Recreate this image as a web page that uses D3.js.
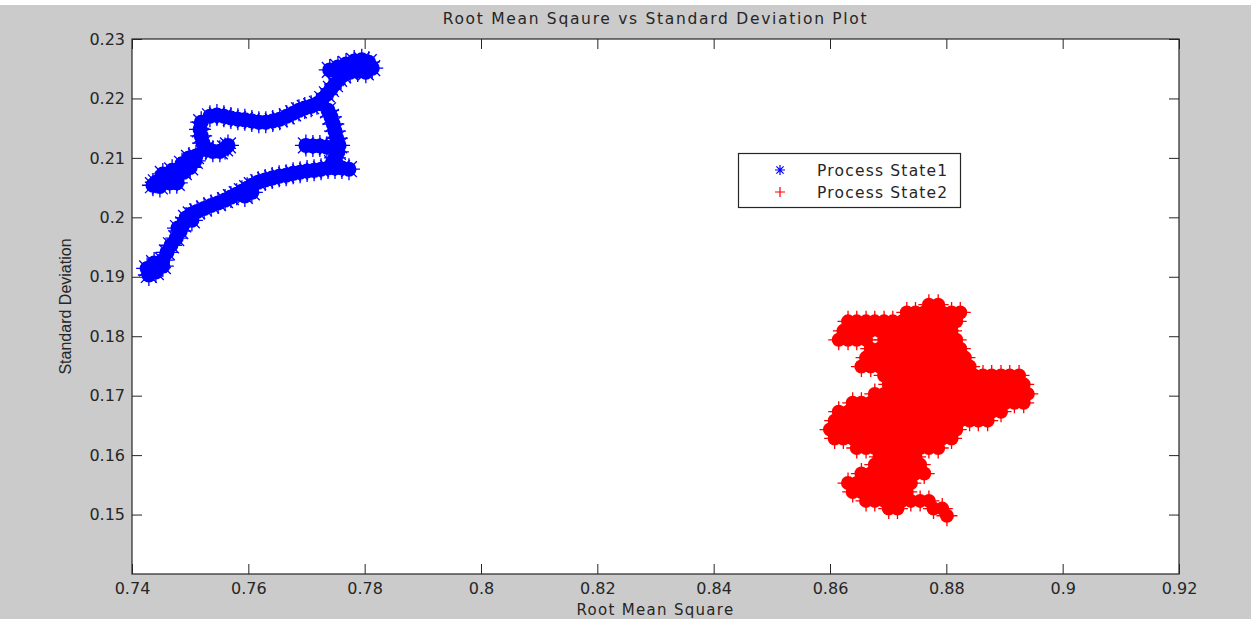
<!DOCTYPE html>
<html>
<head>
<meta charset="utf-8">
<script src="https://cdn.jsdelivr.net/npm/d3@7"></script>
<style>
  html, body { margin: 0; padding: 0; background: #ffffff; }
  svg { display: block; }
</style>
</head>
<body>
<svg id="chart" width="1251" height="619"></svg>
<script>
// ---- data -------------------------------------------------------------
const xDomain = [0.74, 0.92];
const yDomain = [0.14, 0.23];
const xTicks = [0.74, 0.76, 0.78, 0.80, 0.82, 0.84, 0.86, 0.88, 0.90, 0.92];
const yTicks = [0.15, 0.16, 0.17, 0.18, 0.19, 0.20, 0.21, 0.22, 0.23];
const seriesNames = ["Process State1", "Process State2"];
const seriesColors = ["#0000ff", "#ff0000"];

// Process State1: (RMS, SD) samples
const state1 = [
  [0.7426,0.1914],[0.7438,0.1923],[0.7441,0.1908],[0.7453,0.1918],[0.7429,0.1903],[0.7453,0.1928],
  [0.7460,0.1941],[0.7467,0.1953],[0.7476,0.1965],[0.7483,0.1977],[0.7488,0.1988],[0.7479,0.1982],
  [0.7503,0.1995],[0.7493,0.1999],[0.7501,0.2005],[0.7512,0.2010],[0.7524,0.2015],[0.7536,0.2020],
  [0.7548,0.2024],[0.7560,0.2029],[0.7570,0.2034],[0.7580,0.2039],[0.7589,0.2044],[0.7594,0.2036],
  [0.7606,0.2042],[0.7598,0.2049],[0.7606,0.2054],[0.7617,0.2059],[0.7629,0.2063],[0.7641,0.2066],
  [0.7653,0.2069],[0.7665,0.2071],[0.7677,0.2074],[0.7689,0.2076],[0.7701,0.2078],[0.7713,0.2079],
  [0.7725,0.2081],[0.7737,0.2083],[0.7749,0.2083],[0.7761,0.2083],[0.7773,0.2081],
  [0.7744,0.2091],[0.7749,0.2100],[0.7754,0.2110],[0.7756,0.2121],[0.7752,0.2133],[0.7749,0.2145],
  [0.7746,0.2157],[0.7742,0.2169],[0.7737,0.2180],
  [0.7699,0.2121],[0.7711,0.2120],[0.7723,0.2120],[0.7735,0.2118],
  [0.7718,0.2191],[0.7727,0.2199],[0.7735,0.2207],[0.7742,0.2216],[0.7749,0.2224],[0.7756,0.2233],
  [0.7763,0.2239],
  [0.7740,0.2248],[0.7754,0.2253],[0.7768,0.2258],[0.7782,0.2263],[0.7795,0.2265],[0.7807,0.2261],
  [0.7813,0.2251],[0.7802,0.2244],[0.7788,0.2246],[0.7775,0.2244],
  [0.7534,0.2170],[0.7546,0.2172],[0.7558,0.2170],[0.7570,0.2167],[0.7582,0.2165],[0.7594,0.2164],
  [0.7606,0.2162],[0.7618,0.2160],[0.7630,0.2160],[0.7642,0.2162],[0.7654,0.2165],[0.7666,0.2170],
  [0.7677,0.2175],[0.7687,0.2180],[0.7697,0.2184],[0.7708,0.2187],
  [0.7519,0.2160],[0.7517,0.2148],[0.7519,0.2137],[0.7522,0.2125],[0.7527,0.2115],[0.7539,0.2111],
  [0.7551,0.2111],[0.7560,0.2116],[0.7565,0.2121],
  [0.7510,0.2103],[0.7508,0.2095],[0.7500,0.2084],[0.7498,0.2100],[0.7489,0.2076],[0.7486,0.2090],
  [0.7477,0.2069],[0.7469,0.2079],[0.7465,0.2066],[0.7465,0.2058],[0.7453,0.2063],[0.7453,0.2073],
  [0.7441,0.2059],[0.7436,0.2054],[0.7448,0.2052],[0.7477,0.2058]
];

// Process State2: samples grouped by SD value -> list of RMS values
const state2Rows = [
  [0.1853, [0.8770,0.8786]],
  [0.1840, [0.8732,0.8747,0.8762,0.8778,0.8793,0.8809,0.8824]],
  [0.1825, [0.8631,0.8646,0.8662,0.8677,0.8693,0.8708,0.8724,0.8739,0.8755,0.8770,0.8786,0.8801,0.8817]],
  [0.1809, [0.8623,0.8639,0.8654,0.8670,0.8685,0.8701,0.8716,0.8732,0.8747,0.8762,0.8778,0.8793,0.8809]],
  [0.1794, [0.8615,0.8631,0.8646,0.8662,0.8693,0.8708,0.8724,0.8739,0.8755,0.8770,0.8786,0.8801,0.8817]],
  [0.1779, [0.8670,0.8685,0.8701,0.8716,0.8732,0.8747,0.8762,0.8778,0.8793,0.8809,0.8824]],
  [0.1764, [0.8662,0.8677,0.8693,0.8708,0.8724,0.8739,0.8755,0.8770,0.8786,0.8801,0.8817,0.8832]],
  [0.1749, [0.8654,0.8670,0.8685,0.8701,0.8716,0.8732,0.8747,0.8762,0.8778,0.8793,0.8809,0.8824,0.8840]],
  [0.1734, [0.8693,0.8708,0.8724,0.8739,0.8755,0.8770,0.8786,0.8801,0.8817,0.8832,0.8848,0.8863,0.8878,0.8894,0.8909,0.8925]],
  [0.1719, [0.8701,0.8716,0.8732,0.8747,0.8762,0.8778,0.8793,0.8809,0.8824,0.8840,0.8855,0.8871,0.8886,0.8902,0.8917,0.8933]],
  [0.1703, [0.8677,0.8693,0.8708,0.8724,0.8739,0.8755,0.8770,0.8786,0.8801,0.8817,0.8832,0.8848,0.8863,0.8878,0.8894,0.8909,0.8925,0.8940]],
  [0.1688, [0.8639,0.8654,0.8670,0.8685,0.8701,0.8716,0.8732,0.8747,0.8762,0.8778,0.8793,0.8809,0.8824,0.8840,0.8855,0.8871,0.8886,0.8902,0.8917,0.8933]],
  [0.1673, [0.8615,0.8631,0.8646,0.8662,0.8677,0.8693,0.8708,0.8724,0.8739,0.8755,0.8770,0.8786,0.8801,0.8817,0.8832,0.8848,0.8863,0.8878,0.8894]],
  [0.1658, [0.8608,0.8623,0.8639,0.8654,0.8670,0.8685,0.8701,0.8716,0.8732,0.8747,0.8762,0.8778,0.8793,0.8809,0.8824,0.8840,0.8855,0.8871]],
  [0.1643, [0.8600,0.8615,0.8631,0.8646,0.8662,0.8677,0.8693,0.8708,0.8724,0.8739,0.8755,0.8770,0.8786,0.8801,0.8817]],
  [0.1628, [0.8608,0.8623,0.8639,0.8654,0.8670,0.8685,0.8701,0.8716,0.8732,0.8747,0.8762,0.8778,0.8793,0.8809]],
  [0.1612, [0.8646,0.8662,0.8677,0.8693,0.8708,0.8724,0.8739,0.8755,0.8770,0.8786]],
  [0.1597, [0.8685,0.8701,0.8716,0.8732,0.8747]],
  [0.1584, [0.8677,0.8693,0.8708,0.8724,0.8739,0.8755]],
  [0.1569, [0.8654,0.8670,0.8685,0.8701,0.8716,0.8732,0.8747,0.8762]],
  [0.1553, [0.8631,0.8646,0.8662,0.8677,0.8693,0.8708,0.8724,0.8739]],
  [0.1538, [0.8639,0.8654,0.8670,0.8685,0.8701,0.8716,0.8732]],
  [0.1523, [0.8662,0.8677,0.8693,0.8708,0.8724,0.8739,0.8755,0.8770]],
  [0.1510, [0.8701,0.8716,0.8778,0.8793]],
  [0.1498, [0.8801]]
];
const state2 = state2Rows.flatMap(([sd, list]) => list.map(rms => [rms, sd]));

// ---- layout -----------------------------------------------------------
const W = 1251, H = 619;
const plot = { left: 132, right: 1179, top: 39, bottom: 574 };
const FONT = "'DejaVu Sans', Verdana, sans-serif";
const INK = "#262626";

const svg = d3.select("#chart");

// figure background
svg.append("rect").attr("x", 0).attr("y", 5).attr("width", W).attr("height", H - 5).attr("fill", "#cbcbcb");
// axes background
svg.append("rect")
  .attr("x", plot.left).attr("y", plot.top)
  .attr("width", plot.right - plot.left).attr("height", plot.bottom - plot.top)
  .attr("fill", "#ffffff");

const x = d3.scaleLinear().domain(xDomain).range([plot.left, plot.right]);
const y = d3.scaleLinear().domain(yDomain).range([plot.bottom, plot.top]);
const fmt = d => String(+d.toFixed(2));

// ---- markers ------------------------------------------------------------
function starGlyph(r) {
  const a = r * 0.72;
  return `M${-r},0H${r}M0,${-r}V${r}M${-a},${-a}L${a},${a}M${-a},${a}L${a},${-a}`;
}
function plusGlyph(r) {
  return `M${-r},0H${r}M0,${-r}V${r}`;
}

function drawSeries(pts, color, glyph, disc, arm) {
  const g = svg.append("g");
  g.selectAll("circle").data(pts).join("circle")
    .attr("cx", d => x(d[0])).attr("cy", d => y(d[1]))
    .attr("r", disc).attr("fill", color);
  g.selectAll("path").data(pts).join("path")
    .attr("transform", d => `translate(${x(d[0])},${y(d[1])})`)
    .attr("d", glyph(arm))
    .attr("fill", "none").attr("stroke", color).attr("stroke-width", 1.3);
}

drawSeries(state1, seriesColors[0], starGlyph, 7.5, 11);
drawSeries(state2, seriesColors[1], plusGlyph, 7, 10.5);

// ---- axes -------------------------------------------------------------
function styleAxis(g) {
  g.select(".domain").remove();
  g.selectAll(".tick line").attr("stroke", INK).attr("stroke-width", 1);
  g.selectAll(".tick text").attr("fill", INK).style("font-family", FONT).style("font-size", "16px");
}

svg.append("g").attr("transform", `translate(0,${plot.bottom})`)
  .call(d3.axisBottom(x).tickValues(xTicks).tickFormat(fmt).tickSizeInner(-10).tickSizeOuter(0).tickPadding(9))
  .call(styleAxis);
svg.append("g").attr("transform", `translate(0,${plot.top})`)
  .call(d3.axisTop(x).tickValues(xTicks).tickFormat("").tickSizeInner(-10).tickSizeOuter(0))
  .call(styleAxis);
svg.append("g").attr("transform", `translate(${plot.left},0)`)
  .call(d3.axisLeft(y).tickValues(yTicks).tickFormat(fmt).tickSizeInner(-10).tickSizeOuter(0).tickPadding(7))
  .call(styleAxis);
svg.append("g").attr("transform", `translate(${plot.right},0)`)
  .call(d3.axisRight(y).tickValues(yTicks).tickFormat("").tickSizeInner(-10).tickSizeOuter(0))
  .call(styleAxis);

// axes box
svg.append("rect")
  .attr("x", plot.left).attr("y", plot.top)
  .attr("width", plot.right - plot.left).attr("height", plot.bottom - plot.top)
  .attr("fill", "none").attr("stroke", INK).attr("stroke-width", 1.2);

// ---- titles -----------------------------------------------------------
const cx = (plot.left + plot.right) / 2;
svg.append("text").attr("x", cx).attr("y", 24)
  .attr("text-anchor", "middle").attr("fill", INK)
  .style("font-family", FONT).style("font-size", "15.5px").style("letter-spacing", "1.7px")
  .text("Root Mean Sqaure vs Standard Deviation Plot");

svg.append("text").attr("x", cx).attr("y", 615)
  .attr("text-anchor", "middle").attr("fill", INK)
  .style("font-family", FONT).style("font-size", "15px").style("letter-spacing", "1.3px")
  .text("Root Mean Square");

svg.append("text")
  .attr("transform", `translate(71,${(plot.top + plot.bottom) / 2}) rotate(-90)`)
  .attr("text-anchor", "middle").attr("fill", INK)
  .style("font-family", "'Liberation Sans', Arial, sans-serif").style("font-size", "16px")
  .text("Standard Deviation");

// ---- legend -----------------------------------------------------------
const legend = svg.append("g");
legend.append("rect")
  .attr("x", 738.5).attr("y", 153.5).attr("width", 222).attr("height", 54)
  .attr("fill", "#ffffff").attr("stroke", INK).attr("stroke-width", 1.2);
const legendGlyphs = [starGlyph, plusGlyph];
seriesNames.forEach((name, i) => {
  const ly = 170 + i * 22;
  legend.append("path")
    .attr("transform", `translate(780,${ly})`)
    .attr("d", legendGlyphs[i](5))
    .attr("fill", "none").attr("stroke", seriesColors[i]).attr("stroke-width", 1.2);
  legend.append("text")
    .attr("x", 817).attr("y", ly + 5.5).attr("fill", INK)
    .style("font-family", FONT).style("font-size", "15.5px").style("letter-spacing", "1.2px")
    .text(name);
});
</script>
</body>
</html>
